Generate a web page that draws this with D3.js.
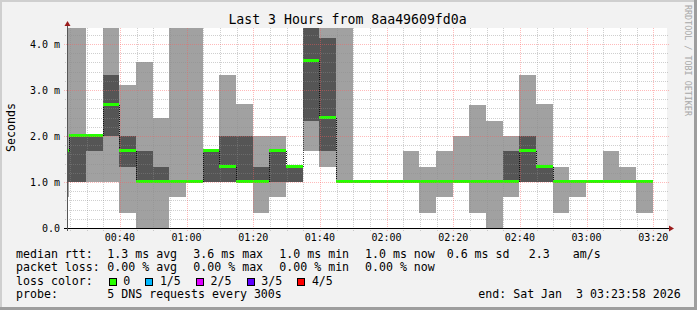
<!DOCTYPE html>
<html>
<head>
<meta charset="utf-8">
<script src="https://cdn.jsdelivr.net/npm/d3@7"></script>
<style>
  body { margin: 0; background: #fff; }
  svg text { font-family: "DejaVu Sans Mono", monospace; white-space: pre; }
</style>
</head>
<body>
<svg id="chart" width="697" height="310"></svg>
<script>
const title = "Last 3 Hours from 8aa49609fd0a";
const yLabel = "Seconds";
const watermark = "RRDTOOL / TOBI OETIKER";

// time window of the graph and the rrd steps (5 min each)
const rangeStart = "2026-01-03T00:24:08";
const rangeEnd = "2026-01-03T03:24:08";
const firstStep = "2026-01-03T00:19:49";
const stepSeconds = 300;

// 5 sorted pings per step, in ms
const pingMin = [0.67, 1.0, 1.0, 1.0, 0.33, 0, 0, 0.67, 1.0, 1.0, 1.0, 1.0, 0.33, 0.67, 1.0, 1.67, 1.33, 1.0,
  1.0, 1.0, 1.0, 1.0, 0.33, 0.67, 1.0, 0.33, 0, 0.67, 1.0, 1.0, 0.33, 0.67, 1.0, 1.0, 1.0, 0.33];
const ping2 = [1.0, 1.0, 1.67, 2.0, 1.33, 1.0, 1.0, 1.0, 1.0, 1.0, 1.0, 1.0, 1.0, 1.0, 1.0, 2.33, 1.67, 1.0,
  1.0, 1.0, 1.0, 1.0, 1.0, 1.0, 1.0, 1.0, 1.0, 1.0, 1.0, 1.0, 1.0, 1.0, 1.0, 1.0, 1.0, 1.0];
const median = [1.67, 2.0, 2.0, 2.67, 1.67, 1.0, 1.0, 1.0, 1.0, 1.67, 1.33, 1.0, 1.0, 1.67, 1.33, 3.62, 2.4, 1.0,
  1.0, 1.0, 1.0, 1.0, 1.0, 1.0, 1.0, 1.0, 1.0, 1.0, 1.67, 1.33, 1.0, 1.0, 1.0, 1.0, 1.0, 1.0];
const ping4 = [1.67, 2.0, 2.0, 3.33, 2.0, 1.67, 1.33, 1.0, 1.0, 1.67, 2.0, 2.0, 1.33, 1.67, 1.33, 5.0, 4.13, 1.0,
  1.0, 1.0, 1.0, 1.0, 1.0, 1.0, 1.0, 1.0, 1.0, 1.67, 2.0, 1.33, 1.0, 1.0, 1.0, 1.0, 1.0, 1.0];
const pingMax = [5.0, 5.0, 2.0, 5.0, 3.1, 3.6, 2.4, 5.0, 5.0, 1.67, 3.33, 2.7, 2.0, 2.0, 1.33, 6.0, 5.0, 5.0,
  1.0, 1.0, 1.0, 1.67, 1.33, 1.67, 2.0, 2.67, 2.33, 2.0, 3.33, 2.7, 1.33, 1.0, 1.0, 1.67, 1.33, 1.0];

const yTicks = [0, 1, 2, 3, 4];
const yTickLabels = ["0.0", "1.0 m", "2.0 m", "3.0 m", "4.0 m"];

const rttStats = ["1.3 ms avg", "3.6 ms max", "1.0 ms min", "1.0 ms now", "0.6 ms sd", "2.3", "am/s"];
const lossStats = ["0.00 % avg", "0.00 % max", "0.00 % min", "0.00 % now"];
const lossLabels = ["0", "1/5", "2/5", "3/5", "4/5"];
const lossColors = ["#26ff00", "#00b8ff", "#dd00ff", "#5e00ff", "#ff0000"];
const probeText = "5 DNS requests every 300s";
const endText = "end: Sat Jan  3 03:23:58 2026";

const W = 697, H = 310;
const pL = 67, pR = 667, pT = 28, pB = 228;
const svg = d3.select("#chart");

// background + rrdtool shading frame
svg.append("rect").attr("width", W).attr("height", H).attr("fill", "#f2f2f2");
svg.append("path").attr("d", `M0,0H${W}V2H2V${H}H0Z`).attr("fill", "#cfcfcf");
svg.append("path").attr("d", `M${W},${H}H0V${H - 3}H${W - 3}V0H${W}Z`).attr("fill", "#9e9e9e");

svg.append("rect").attr("x", pL).attr("y", pT).attr("width", pR - pL).attr("height", pB - pT).attr("fill", "#fff");

const parse = d3.isoParse;
const x = d3.scaleTime().domain([parse(rangeStart), parse(rangeEnd)]).range([pL, pR]);
const y = d3.scaleLinear().domain([0, (pB - pT) / 46]).range([pB, pT]);

svg.append("clipPath").attr("id", "plot")
  .append("rect").attr("x", pL).attr("y", pT).attr("width", pR - pL).attr("height", pB - pT);

const t0 = parse(firstStep);
const steps = median.map((m, i) => ({
  x0: x(d3.timeSecond.offset(t0, i * stepSeconds)),
  x1: x(d3.timeSecond.offset(t0, (i + 1) * stepSeconds)),
  min: pingMin[i], p2: ping2[i], med: m, p4: ping4[i], max: pingMax[i]
}));

const g = svg.append("g").attr("clip-path", "url(#plot)").attr("shape-rendering", "crispEdges");

g.selectAll(".smoke1").data(steps).enter().append("rect")
  .attr("x", d => d.x0).attr("width", d => d.x1 - d.x0)
  .attr("y", d => y(d.max)).attr("height", d => y(d.min) - y(d.max))
  .attr("fill", "#a1a1a1");

g.selectAll(".smoke2").data(steps).enter().append("rect")
  .attr("x", d => d.x0).attr("width", d => d.x1 - d.x0)
  .attr("y", d => y(d.p4)).attr("height", d => y(d.p2) - y(d.p4))
  .attr("fill", "#555555");

// grid on top of the smoke
const minorCol = "rgba(140,140,140,0.42)";
const majorCol = "rgba(255,90,90,0.42)";
const grid = svg.append("g").attr("shape-rendering", "crispEdges");
const minorY = d3.range(0, 4.4, 0.2).filter(v => Math.abs(v - Math.round(v)) > 0.01);
grid.selectAll(".gy").data(minorY).enter().append("line")
  .attr("x1", pL - 2).attr("x2", pR + 2)
  .attr("y1", d => Math.round(y(d)) + 0.5).attr("y2", d => Math.round(y(d)) + 0.5)
  .attr("stroke", minorCol).attr("stroke-dasharray", "1,1");
const minorX = x.ticks(d3.timeMinute.every(5)).filter(t => t.getMinutes() % 20 !== 0);
grid.selectAll(".gx").data(minorX).enter().append("line")
  .attr("x1", d => Math.round(x(d)) + 0.5).attr("x2", d => Math.round(x(d)) + 0.5)
  .attr("y1", pT).attr("y2", pB + 3)
  .attr("stroke", minorCol).attr("stroke-dasharray", "1,1");
grid.selectAll(".my").data(yTicks).enter().append("line")
  .attr("x1", pL - 3).attr("x2", pR + 2)
  .attr("y1", d => Math.round(y(d)) + 0.5).attr("y2", d => Math.round(y(d)) + 0.5)
  .attr("stroke", majorCol).attr("stroke-dasharray", "1,1");
const majorX = x.ticks(d3.timeMinute.every(20));
grid.selectAll(".mx").data(majorX).enter().append("line")
  .attr("x1", d => Math.round(x(d)) + 0.5).attr("x2", d => Math.round(x(d)) + 0.5)
  .attr("y1", pT).attr("y2", pB + 3)
  .attr("stroke", majorCol).attr("stroke-dasharray", "1,1");

// median: dark step connectors + green segments
const conn = [];
steps.forEach((d, i) => {
  if (i > 0 && steps[i - 1].med !== d.med) conn.push({ x: d.x0, a: steps[i - 1].med, b: d.med });
});
g.selectAll(".conn").data(conn).enter().append("line")
  .attr("x1", d => Math.round(d.x) + 0.5).attr("x2", d => Math.round(d.x) + 0.5)
  .attr("y1", d => y(d.a)).attr("y2", d => y(d.b))
  .attr("stroke", "#111").attr("stroke-dasharray", "1,1");
g.selectAll(".med").data(steps).enter().append("rect")
  .attr("x", d => d.x0).attr("width", d => d.x1 - d.x0)
  .attr("y", d => y(d.med) - 2).attr("height", 3)
  .attr("fill", lossColors[0]);

// axes
svg.append("line").attr("x1", pL - 3).attr("x2", pR + 2).attr("y1", pB + 0.5).attr("y2", pB + 0.5)
  .attr("stroke", "#000").attr("shape-rendering", "crispEdges");
svg.append("line").attr("x1", pL + 0.5).attr("x2", pL + 0.5).attr("y1", pB + 3).attr("y2", pT - 3)
  .attr("stroke", "#555").attr("shape-rendering", "crispEdges");
svg.append("path").attr("d", `M${pR + 2},${pB - 2.5}L${pR + 7},${pB + 0.5}L${pR + 2},${pB + 3.5}Z`).attr("fill", "#9b1c1c");
svg.append("path").attr("d", `M${pL - 2.5},${pT - 2}L${pL + 0.5},${pT - 7}L${pL + 3.5},${pT - 2}Z`).attr("fill", "#9b1c1c");

svg.selectAll(".ytl").data(yTicks).enter().append("text")
  .attr("x", 60).attr("y", d => y(d) + 3.5)
  .attr("text-anchor", "end").attr("font-size", "10px").attr("fill", "#000")
  .text((d, i) => yTickLabels[i]);

svg.selectAll(".xtl").data(majorX).enter().append("text")
  .attr("x", d => x(d)).attr("y", 241)
  .attr("text-anchor", "middle").attr("font-size", "10px").attr("fill", "#000")
  .text(d => d3.timeFormat("%H:%M")(d));

svg.append("text").attr("x", 347.5).attr("y", 24).attr("text-anchor", "middle")
  .attr("font-size", "13.2px").attr("fill", "#000").text(title);

svg.append("text").attr("transform", "translate(15,127.5) rotate(-90)").attr("text-anchor", "middle")
  .attr("font-size", "11.6px").attr("fill", "#000").text(yLabel);

svg.append("text").attr("transform", "translate(685,5) rotate(90)")
  .attr("font-size", "8.4px").attr("fill", "#a8a8a8").text(watermark);

// legend
const legend = svg.append("g").attr("font-size", "11.6px").attr("fill", "#000");
const rows = [257.5, 271, 284.5, 298];
const cols = [107.3, 193.3, 279.3, 365, 446.7, 528.7, 572.7];
legend.append("text").attr("x", 16).attr("y", rows[0]).text("median rtt:");
rttStats.forEach((s, i) => legend.append("text").attr("x", cols[i]).attr("y", rows[0]).text(s));
legend.append("text").attr("x", 16).attr("y", rows[1]).text("packet loss:");
lossStats.forEach((s, i) => legend.append("text").attr("x", cols[i]).attr("y", rows[1]).text(s));
legend.append("text").attr("x", 16).attr("y", rows[2]).text("loss color:");
const boxX = [108.7, 145.3, 196, 246.7, 297.3];
lossLabels.forEach((s, i) => {
  legend.append("rect").attr("x", Math.round(boxX[i]) + 0.5).attr("y", 278.5).attr("width", 7).attr("height", 7)
    .attr("fill", lossColors[i]).attr("stroke", "#000");
  legend.append("text").attr("x", boxX[i] + 14.6).attr("y", rows[2]).text(s);
});
legend.append("text").attr("x", 16).attr("y", rows[3]).text("probe:");
legend.append("text").attr("x", cols[0]).attr("y", rows[3]).text(probeText);
legend.append("text").attr("x", 478.3).attr("y", rows[3]).text(endText);
</script>
</body>
</html>
